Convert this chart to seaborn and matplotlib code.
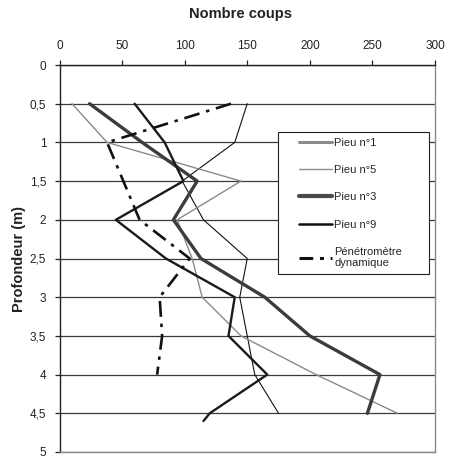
import numpy as np
import pandas as pd
import matplotlib
matplotlib.use("Agg")
import matplotlib.pyplot as plt
import seaborn as sns
from matplotlib.lines import Line2D
from matplotlib.legend_handler import HandlerLine2D

# ---- data ----
depth = [0.5, 1.0, 1.5, 2.0, 2.5, 3.0, 3.5, 4.0, 4.5]
pieu1 = [150, 140, 98, 115, 150, 144, 150, 156, 175]
pieu5 = [10, 38, 145, 94, 106, 114, 145, 205, 270]
pieu3 = [24, 66, 110, 91, 113, 164, 200, 256, 246]
depth9 = [0.5, 1.0, 1.5, 2.0, 2.5, 3.0, 3.5, 4.0, 4.5, 4.6]
pieu9 = [60, 84, 99, 45, 85, 140, 135, 166, 120, 115]
depth_pen = [0.5, 1.0, 1.5, 2.0, 2.5, 3.0, 3.5, 4.0]
penetro = [137, 38, 51, 64, 104, 80, 82, 78]

series_names = ["Pieu n°1", "Pieu n°5", "Pieu n°3", "Pieu n°9",
                "Pénétromètre\ndynamique"]
x_ticks = [0, 50, 100, 150, 200, 250, 300]
y_ticks = [0, 0.5, 1, 1.5, 2, 2.5, 3, 3.5, 4, 4.5, 5]
y_tick_labels = ["0", "0,5", "1", "1,5", "2", "2,5", "3", "3,5", "4", "4,5", "5"]
x_title = "Nombre coups"
y_title = "Profondeur (m)"

frames = [
    pd.DataFrame({"coups": pieu1, "prof": depth, "serie": series_names[0]}),
    pd.DataFrame({"coups": pieu5, "prof": depth, "serie": series_names[1]}),
    pd.DataFrame({"coups": pieu3, "prof": depth, "serie": series_names[2]}),
    pd.DataFrame({"coups": pieu9, "prof": depth9, "serie": series_names[3]}),
    pd.DataFrame({"coups": penetro, "prof": depth_pen, "serie": series_names[4]}),
]

# plot styles (as they appear in the chart)
plot_styles = [
    dict(color="#111111", lw=0.8, ls="-"),
    dict(color="#8a8a8a", lw=1.0, ls="-"),
    dict(color="#3c3c3c", lw=2.4, ls="-"),
    dict(color="#1a1a1a", lw=1.7, ls="-"),
    dict(color="#111111", lw=1.9, ls=(0, (6.0, 2.6, 1.3, 2.6))),
]
# legend swatches (as they appear in the legend)
legend_styles = [
    dict(color="#8c8c8c", lw=2.2, ls="-"),
    dict(color="#8c8c8c", lw=1.0, ls="-"),
    dict(color="#4a4a4a", lw=3.0, ls="-"),
    dict(color="#111111", lw=1.8, ls="-"),
    dict(color="#111111", lw=2.2, ls=(0, (4.5, 2.2, 1.3, 2.2))),
]

sns.set_style("white")
plt.rcParams["font.family"] = ["Liberation Sans", "DejaVu Sans"]

fig = plt.figure(figsize=(4.49, 4.59), dpi=100)
ax = fig.add_axes([59.5 / 449, 7 / 459, 375.5 / 449, 387 / 459])

for df, st in zip(frames, plot_styles):
    sns.lineplot(data=df, x="coups", y="prof", sort=False, estimator=None,
                 ax=ax, color=st["color"], linewidth=st["lw"],
                 linestyle=st["ls"], legend=False)

ax.set_xlim(0, 300)
ax.set_ylim(5, 0)
ax.set_xticks(x_ticks)
ax.set_yticks(y_ticks)
ax.set_yticklabels(y_tick_labels)
ax.xaxis.tick_top()
ax.xaxis.set_label_position("top")
ax.set_xlabel("")
ax.set_ylabel(y_title, fontsize=10.5, fontweight="bold", labelpad=3,
              color="#222222")
ax.tick_params(axis="both", which="major", labelsize=8.5, color="#222222",
               direction="out", length=3.5, width=0.9, pad=6, labelcolor="#222222")
ax.tick_params(axis="x", top=True, bottom=False)
ax.tick_params(axis="y", left=True, right=False)

ax.set_axisbelow(True)
ax.yaxis.grid(True, color="#3a3a3a", linewidth=0.9)
ax.xaxis.grid(False)

for side in ["left", "top"]:
    ax.spines[side].set_color("#222222")
    ax.spines[side].set_linewidth(1.0)
for side in ["right", "bottom"]:
    ax.spines[side].set_color("#8a8a8a")
    ax.spines[side].set_linewidth(1.0)
for s in ax.spines.values():
    s.set_zorder(3)

fig.text(240 / 449, 1 - 14 / 459, x_title, ha="center", va="center",
         fontsize=10.5, fontweight="bold", color="#222222")

handles = [Line2D([], [], color=st["color"], linewidth=st["lw"], linestyle=st["ls"])
           for st in legend_styles]
hmap = {h: HandlerLine2D(xpad=1.4) for h in handles}
leg = ax.legend(handles, series_names, loc="upper left",
                bbox_to_anchor=(0.582, 0.826, 0.402, 0.0), mode="expand",
                fontsize=8, frameon=True, fancybox=False, framealpha=1,
                edgecolor="#222222", borderpad=0.5, labelspacing=1.55,
                handlelength=4.4, handletextpad=0.15, borderaxespad=0,
                handler_map=hmap)
leg.get_frame().set_linewidth(0.8)
leg.set_zorder(5)

fig.savefig("out.png", dpi=100)
